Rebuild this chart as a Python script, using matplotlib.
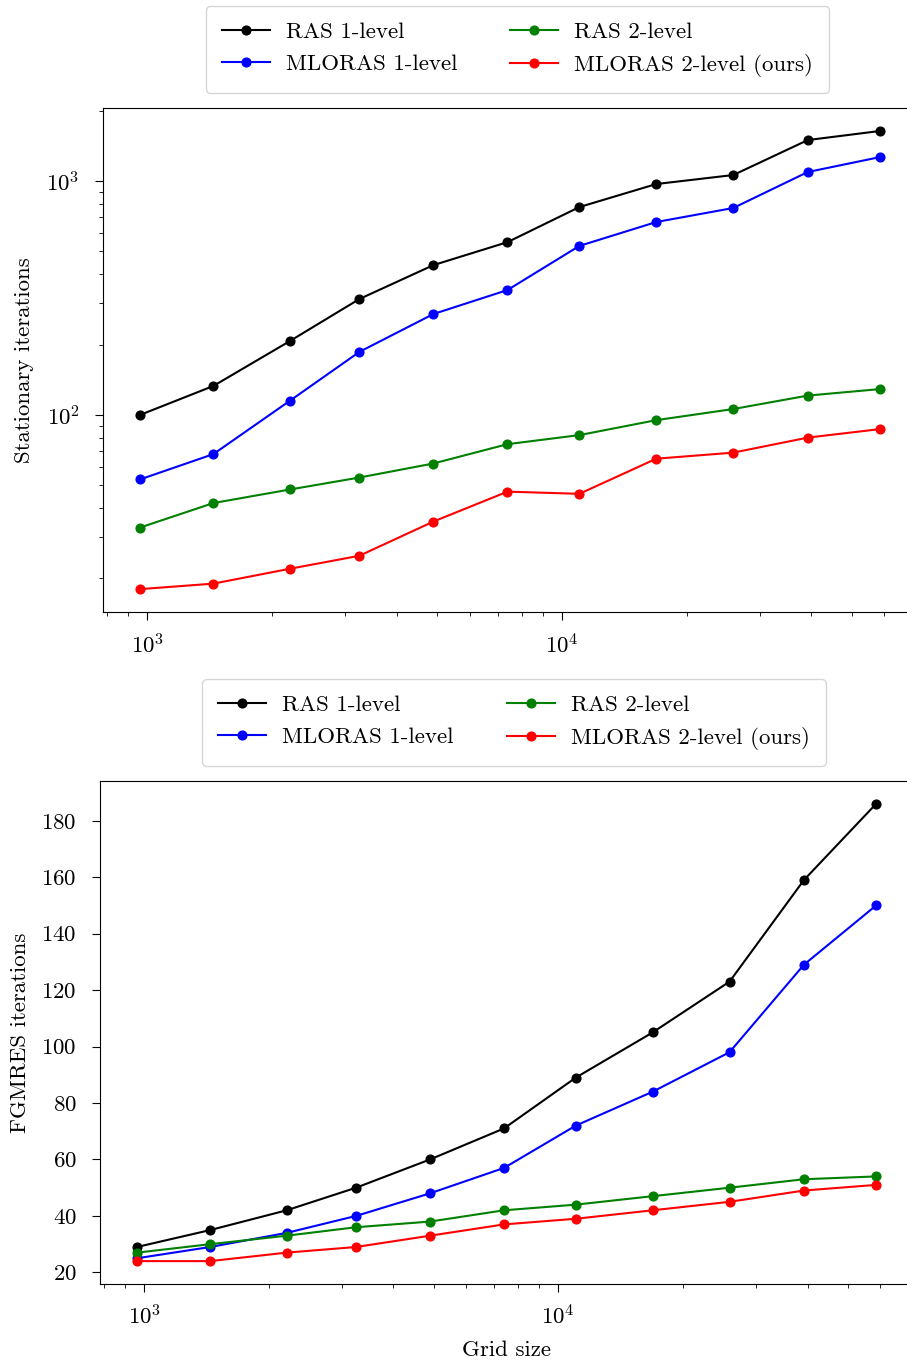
import matplotlib
matplotlib.use("Agg")
import matplotlib.pyplot as plt

plt.rcParams['font.family'] = 'serif'
plt.rcParams['font.serif'] = ['cmr10']
plt.rcParams['mathtext.fontset'] = 'cm'
plt.rcParams['axes.formatter.use_mathtext'] = True
plt.rcParams['font.size'] = 16.5
plt.rcParams['xtick.major.size'] = 5.8
plt.rcParams['ytick.major.size'] = 5.8
plt.rcParams['xtick.minor.size'] = 3.2
plt.rcParams['ytick.minor.size'] = 3.2
plt.rcParams['xtick.major.pad'] = 9
plt.rcParams['ytick.major.pad'] = 11

grid = [961, 1444, 2209, 3249, 4900, 7396, 11025, 16900, 25921, 39204, 58564]

# stationary iterations
stat_ras1 = [100, 133, 207, 313, 437, 548, 774, 971, 1061, 1497, 1637]
stat_mloras1 = [53, 68, 115, 186, 270, 342, 528, 668, 767, 1093, 1266]
stat_ras2 = [33, 42, 48, 54, 62, 75, 82, 95, 106, 121, 129]
stat_mloras2 = [18, 19, 22, 25, 35, 47, 46, 65, 69, 80, 87]

# FGMRES iterations
fg_ras1 = [29, 35, 42, 50, 60, 71, 89, 105, 123, 159, 186]
fg_mloras1 = [25, 29, 34, 40, 48, 57, 72, 84, 98, 129, 150]
fg_ras2 = [27, 30, 33, 36, 38, 42, 44, 47, 50, 53, 54]
fg_mloras2 = [24, 24, 27, 29, 33, 37, 39, 42, 45, 49, 51]

labels = ['RAS 1-level', 'MLORAS 1-level', 'RAS 2-level', 'MLORAS 2-level (ours)']
colors = ['black', 'blue', 'green', 'red']

fig = plt.figure(figsize=(9.07, 13.61), dpi=100)
ax1 = fig.add_axes([0.1136, 0.5503, 0.8975, 0.3703])
ax2 = fig.add_axes([0.1103, 0.0566, 0.8964, 0.3696])

leg_kw = dict(ncol=2, loc='lower center', bbox_transform=fig.transFigure,
              borderaxespad=0, columnspacing=2.3, borderpad=0.7,
              handlelength=2.1, handletextpad=0.7)

for ys, lab, c in zip([stat_ras1, stat_mloras1, stat_ras2, stat_mloras2], labels, colors):
    ax1.plot(grid, ys, '-o', color=c, label=lab, markersize=6.3, linewidth=1.5)
ax1.set_xscale('log')
ax1.set_yscale('log')
ax1.set_ylabel('Stationary iterations', labelpad=9)
ax1.legend(bbox_to_anchor=(0.5705, 0.9317), **leg_kw)

for ys, lab, c in zip([fg_ras1, fg_mloras1, fg_ras2, fg_mloras2], labels, colors):
    ax2.plot(grid, ys, '-o', color=c, label=lab, markersize=6.3, linewidth=1.5)
ax2.set_xscale('log')
ax2.set_ylabel('FGMRES iterations', labelpad=8)
ax2.set_xlabel('Grid size', labelpad=8)
ax2.legend(bbox_to_anchor=(0.5667, 0.4372), **leg_kw)

fig.savefig('out.png', dpi=100)
